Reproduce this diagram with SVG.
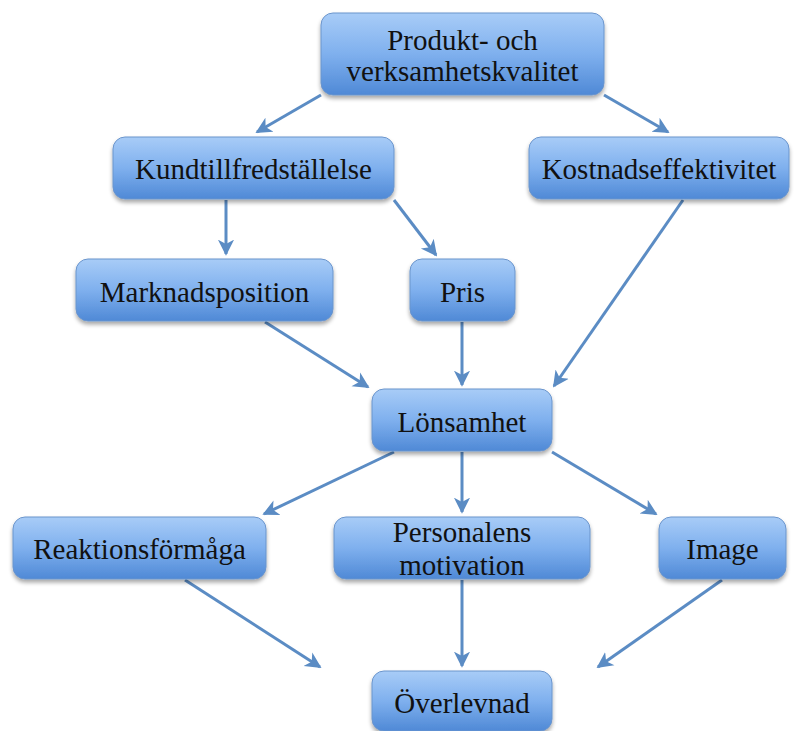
<svg xmlns="http://www.w3.org/2000/svg" width="797" height="731" viewBox="0 0 797 731">
<defs>
<linearGradient id="g" x1="0" y1="0" x2="0" y2="1">
<stop offset="0" stop-color="#a8ccf7"/>
<stop offset="0.5" stop-color="#7fb0ee"/>
<stop offset="1" stop-color="#4f89d6"/>
</linearGradient>
<filter id="sh" x="-10%" y="-10%" width="120%" height="140%">
<feGaussianBlur in="SourceAlpha" stdDeviation="2"/>
<feOffset dy="3"/>
<feComponentTransfer><feFuncA type="linear" slope="0.35"/></feComponentTransfer>
<feMerge><feMergeNode/><feMergeNode in="SourceGraphic"/></feMerge>
</filter>
<marker id="ah" viewBox="0 0 10 10" refX="8" refY="5" markerWidth="6" markerHeight="6" orient="auto" markerUnits="strokeWidth">
<path d="M0,0.5 L9,5 L0,9.5 L2.5,5 Z" fill="#5b8cc4"/>
</marker>
<style>
.box{fill:url(#g);stroke:#6b95cc;stroke-width:1;filter:url(#sh)}
.t{font-family:"Liberation Serif","Times New Roman",serif;font-size:29px;fill:#111;text-anchor:middle}
.c{stroke:#5b8cc4;stroke-width:3;fill:none;marker-end:url(#ah)}
</style>
</defs>
<rect width="797" height="731" fill="#ffffff"/>
<g id="connectors">
<line class="c" x1="321" y1="95" x2="257" y2="132"/>
<line class="c" x1="604" y1="95" x2="668" y2="132"/>
<line class="c" x1="226" y1="200" x2="226" y2="254"/>
<line class="c" x1="394" y1="200" x2="436" y2="255"/>
<line class="c" x1="683" y1="200" x2="554" y2="386"/>
<line class="c" x1="265" y1="322" x2="368" y2="387"/>
<line class="c" x1="462" y1="322" x2="462" y2="385"/>
<line class="c" x1="394" y1="452" x2="264" y2="514"/>
<line class="c" x1="462" y1="452" x2="462" y2="512"/>
<line class="c" x1="552" y1="452" x2="656" y2="514"/>
<line class="c" x1="185" y1="580" x2="320" y2="667"/>
<line class="c" x1="462" y1="580" x2="462" y2="666"/>
<line class="c" x1="722" y1="580" x2="598" y2="667"/>
</g>
<g id="n1"><rect class="box" x="321" y="13" width="283" height="82" rx="12"/><text class="t" x="462.5" y="50">Produkt- och</text><text class="t" x="462.5" y="81">verksamhetskvalitet</text></g>
<g id="n2"><rect class="box" x="113" y="137" width="281" height="62" rx="12"/><text class="t" x="253.5" y="179">Kundtillfredställelse</text></g>
<g id="n3"><rect class="box" x="529" y="137" width="260" height="62" rx="12"/><text class="t" x="659" y="179">Kostnadseffektivitet</text></g>
<g id="n4"><rect class="box" x="76" y="259" width="257" height="62" rx="12"/><text class="t" x="204.5" y="302">Marknadsposition</text></g>
<g id="n5"><rect class="box" x="410" y="259" width="105" height="62" rx="12"/><text class="t" x="462.5" y="302">Pris</text></g>
<g id="n6"><rect class="box" x="372" y="389" width="180" height="62" rx="12"/><text class="t" x="462" y="432">Lönsamhet</text></g>
<g id="n7"><rect class="box" x="13" y="517" width="253" height="62" rx="12"/><text class="t" x="139.5" y="559">Reaktionsförmåga</text></g>
<g id="n8"><rect class="box" x="334" y="517" width="256" height="62" rx="12"/><text class="t" x="462" y="542">Personalens</text><text class="t" x="462" y="575">motivation</text></g>
<g id="n9"><rect class="box" x="659" y="517" width="127" height="62" rx="12"/><text class="t" x="722.5" y="559">Image</text></g>
<g id="n10"><rect class="box" x="372" y="671" width="180" height="60" rx="12"/><text class="t" x="462" y="713">Överlevnad</text></g>
</svg>
